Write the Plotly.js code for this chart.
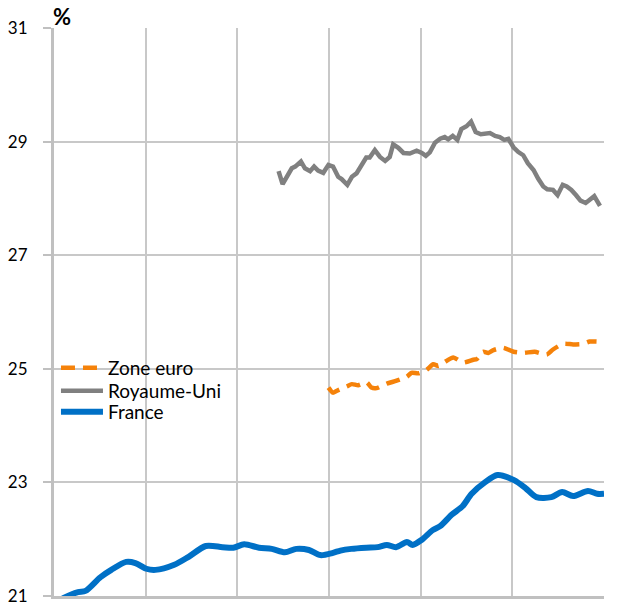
<!DOCTYPE html>
<html>
<head>
<meta charset="utf-8">
<script src="https://cdn.plot.ly/plotly-3.0.1.min.js"></script>
<style>html,body{margin:0;padding:0;background:#fff;}#chart{width:625px;height:609px;}</style>
</head>
<body>
<div id="chart"></div>
<script>
// Quarter index (0 = first quarter of the period shown, 96 = last)
const seriesNames = ["Zone euro", "Royaume-Uni", "France"];

const euroX = [47.9, 48.7, 49.3, 51.1, 52.0, 53.1, 54.6, 55.4, 56.3, 58.1, 59.8, 61.6, 62.4, 63.6, 65.0, 66.2, 67.1, 68.2, 69.7, 71.4, 73.2, 73.8, 74.9, 75.8, 76.7, 78.4, 80.2, 81.9, 83.9, 86.0, 87.1, 88.9, 90.6, 92.4, 93.5, 94.7];
const euroY = [24.67, 24.58, 24.61, 24.69, 24.73, 24.71, 24.76, 24.67, 24.66, 24.74, 24.79, 24.86, 24.93, 24.92, 24.98, 25.08, 25.05, 25.12, 25.20, 25.11, 25.16, 25.17, 25.30, 25.28, 25.33, 25.37, 25.30, 25.28, 25.30, 25.25, 25.34, 25.44, 25.43, 25.44, 25.48, 25.48];

const ukX = [39.2, 39.9, 41.5, 42.1, 43.1, 43.8, 44.7, 45.4, 46.1, 47.0, 47.9, 48.7, 49.6, 50.2, 51.2, 52.0, 52.8, 53.4, 54.5, 55.1, 56.0, 56.9, 57.8, 58.6, 59.2, 60.1, 61.0, 62.1, 63.3, 64.2, 64.9, 65.6, 66.5, 67.4, 68.2, 68.8, 69.6, 70.4, 71.1, 72.0, 72.8, 73.6, 74.5, 76.1, 77.0, 77.8, 78.6, 79.3, 80.2, 81.0, 81.9, 82.7, 83.7, 84.5, 85.4, 86.1, 87.1, 87.9, 88.8, 89.5, 90.3, 91.1, 91.9, 92.8, 93.5, 94.3, 95.3];
const ukY = [28.48, 28.25, 28.53, 28.56, 28.65, 28.53, 28.48, 28.56, 28.49, 28.45, 28.59, 28.56, 28.38, 28.34, 28.24, 28.38, 28.44, 28.53, 28.72, 28.72, 28.85, 28.73, 28.66, 28.73, 28.95, 28.89, 28.80, 28.79, 28.84, 28.80, 28.75, 28.81, 28.98, 29.05, 29.08, 29.04, 29.10, 29.03, 29.22, 29.27, 29.35, 29.17, 29.13, 29.15, 29.10, 29.08, 29.03, 29.05, 28.90, 28.82, 28.76, 28.62, 28.50, 28.35, 28.21, 28.16, 28.15, 28.06, 28.24, 28.21, 28.15, 28.06, 27.96, 27.92, 27.98, 28.04, 27.87];

const frX = [0, 1.6, 4.2, 5.5, 8.1, 10.0, 12.6, 14.2, 16.1, 17.7, 21.0, 23.5, 26.5, 29.4, 31.3, 33.2, 35.8, 38.0, 40.3, 42.3, 44.5, 46.5, 48.7, 50.0, 51.9, 54.5, 56.5, 58.1, 59.7, 61.6, 62.6, 64.2, 66.1, 67.4, 69.4, 71.3, 72.9, 75.2, 77.4, 80.3, 82.3, 84.2, 86.8, 88.7, 90.6, 93.2, 94.8, 96.0];
const frY = [20.86, 20.96, 21.07, 21.09, 21.33, 21.46, 21.60, 21.58, 21.48, 21.46, 21.55, 21.69, 21.88, 21.86, 21.85, 21.91, 21.85, 21.83, 21.77, 21.83, 21.81, 21.72, 21.76, 21.80, 21.83, 21.85, 21.86, 21.90, 21.86, 21.95, 21.90, 21.99, 22.16, 22.23, 22.43, 22.58, 22.80, 23.00, 23.13, 23.04, 22.90, 22.74, 22.74, 22.83, 22.76, 22.85, 22.80, 22.80];

const yTicks = [21, 23, 25, 27, 29, 31];
const xGrid = [0, 16, 32, 48, 64, 80, 96];

const traces = [
  {x: euroX, y: euroY, name: seriesNames[0], mode: "lines", type: "scatter", legend: "legend",
   line: {color: "#f5820a", width: 4.5, dash: "14px,8px", shape: "spline", smoothing: 0.6}},
  {x: ukX, y: ukY, name: seriesNames[1], mode: "lines", type: "scatter", legend: "legend2",
   line: {color: "#808080", width: 4.5}},
  {x: frX, y: frY, name: seriesNames[2], mode: "lines", type: "scatter", legend: "legend3",
   line: {color: "#0070c6", width: 6, shape: "spline", smoothing: 0.8}}
];

function legendAt(yc) {
  return {x: 0.0036, xanchor: "left", y: yc, yanchor: "middle", bgcolor: "rgba(0,0,0,0)",
          itemwidth: 42, font: {size: 19, color: "#000"}};
}

const layout = {
  width: 625, height: 609,
  margin: {l: 54, r: 21, t: 28, b: 13},
  paper_bgcolor: "#ffffff", plot_bgcolor: "#ffffff",
  font: {family: "Lato, 'Open Sans', sans-serif", size: 17, color: "#000"},
  showlegend: true,
  legend: legendAt(0.4014),
  legend2: legendAt(0.3609),
  legend3: legendAt(0.3239),
  xaxis: {range: [0, 96], tickvals: xGrid, showticklabels: false, ticks: "",
          showgrid: true, gridcolor: "#c8c8c8", gridwidth: 2, zeroline: false,
          showline: true, linecolor: "#c0c0c0", linewidth: 3, fixedrange: true},
  yaxis: {range: [21, 31], tickvals: yTicks, ticktext: yTicks.map(String),
          ticks: "outside", ticklen: 8, tickcolor: "#c0c0c0", tickwidth: 2,
          ticklabelstandoff: 12,
          showgrid: true, gridcolor: "#c8c8c8", gridwidth: 2, zeroline: false,
          showline: true, linecolor: "#c0c0c0", linewidth: 3, fixedrange: true,
          tickfont: {size: 17, color: "#000"}},
  annotations: [{text: "<b>%</b>", xref: "paper", yref: "paper", x: 0, y: 1, xanchor: "left", yanchor: "bottom",
                 showarrow: false, font: {size: 22, color: "#000"}, yshift: -4, xshift: -3}]
};

Plotly.newPlot("chart", traces, layout, {displayModeBar: false, staticPlot: true});
</script>
</body>
</html>
